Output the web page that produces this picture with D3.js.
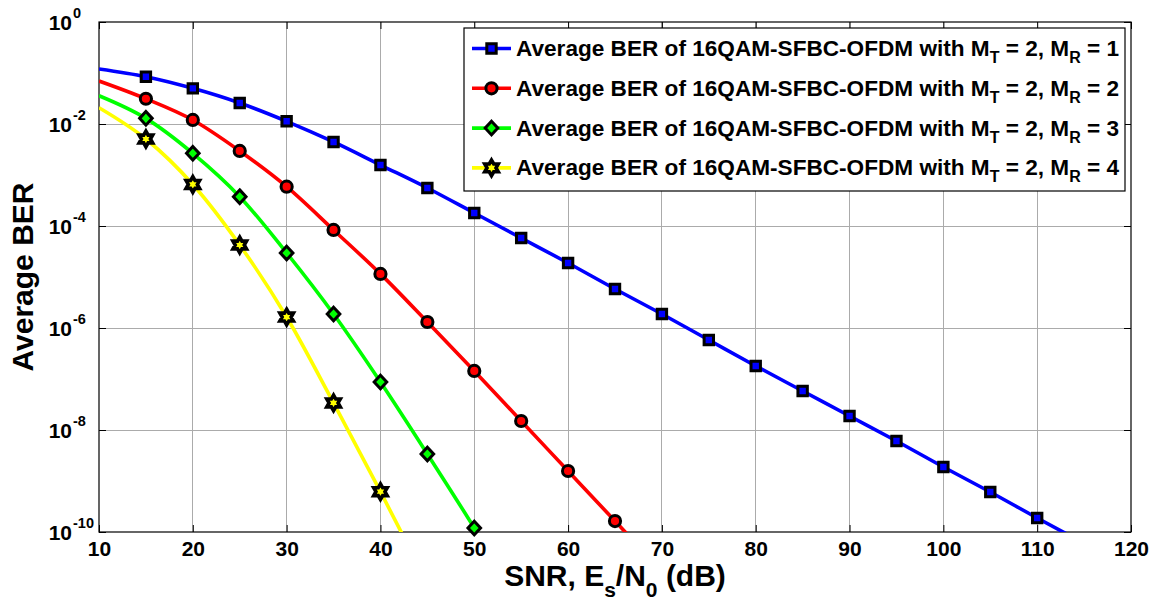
<!DOCTYPE html>
<html>
<head>
<meta charset="utf-8">
<script src="https://cdn.jsdelivr.net/npm/d3@7"></script>
<style>
  html, body { margin: 0; padding: 0; background: #fff; }
  svg { display: block; font-family: "Liberation Sans", Arial, sans-serif; font-weight: bold; }
</style>
</head>
<body>
<svg id="chart" width="1162" height="605"></svg>
<script>
// SNR (dB) sample points and average BER for each receive-antenna count
const snr1 = [10, 15, 20, 25, 30, 35, 40, 45, 50, 55, 60, 65, 70, 75, 80, 85, 90, 95, 100, 105, 110, 115];
const ber1 = [1.20e-1, 8.45e-2, 5.0e-2, 2.58e-2, 1.13e-2, 4.44e-3, 1.57e-3, 5.56e-4, 1.80e-4, 5.82e-5, 1.88e-5,
              5.82e-6, 1.88e-6, 5.82e-7, 1.80e-7, 5.82e-8, 1.88e-8, 6.08e-9, 1.88e-9, 6.08e-10, 1.88e-10, 6.0e-11];

const snr2 = [10, 15, 20, 25, 30, 35, 40, 45, 50, 55, 60, 65, 70];
const ber2 = [6.97e-2, 3.13e-2, 1.20e-2, 2.96e-3, 5.90e-4, 8.36e-5, 1.15e-5, 1.31e-6, 1.44e-7, 1.50e-8, 1.57e-9, 1.64e-10, 1.7e-11];

const snr3 = [10, 15, 20, 25, 30, 35, 40, 45, 50, 55];
const ber3 = [3.59e-2, 1.29e-2, 2.66e-3, 3.76e-4, 2.96e-5, 1.88e-6, 8.73e-8, 3.38e-9, 1.20e-10, 3.5e-12];

const snr4 = [10, 15, 20, 25, 30, 35, 40, 45];
const ber4 = [2.09e-2, 5.08e-3, 6.52e-4, 4.24e-5, 1.64e-6, 3.39e-8, 6.17e-10, 1.0e-11];

const receiveAntennas = [1, 2, 3, 4];
const seriesColors = ["#0000ff", "#ff0000", "#00ff00", "#ffff00"];
const seriesMarkers = ["square", "circle", "diamond", "hexagram"];

const xTicks = [10, 20, 30, 40, 50, 60, 70, 80, 90, 100, 110, 120];
const yTicks = [1, 1e-2, 1e-4, 1e-6, 1e-8, 1e-10];
const yTickExponents = ["0", "-2", "-4", "-6", "-8", "-10"];
const firstMarkerSnr = 15;

const series = [
  { snr: snr1, ber: ber1 },
  { snr: snr2, ber: ber2 },
  { snr: snr3, ber: ber3 },
  { snr: snr4, ber: ber4 }
].map((s, i) => ({
  points: s.snr.map((v, j) => ({ snr: v, ber: s.ber[j] })),
  color: seriesColors[i],
  marker: seriesMarkers[i],
  mr: receiveAntennas[i]
}));

// ---- layout ----
const svg = d3.select("#chart");
const plot = { left: 99, right: 1131, top: 22, bottom: 532 };

const x = d3.scaleLinear().domain([10, 120]).range([plot.left, plot.right]);
const y = d3.scaleLog().domain([1e-10, 1]).range([plot.bottom, plot.top]);

// ---- grid ----
const grid = svg.append("g").attr("stroke", "#ababab").attr("stroke-width", 1).attr("shape-rendering", "crispEdges");
grid.selectAll("line.gx").data(xTicks.slice(1, -1)).enter().append("line")
  .attr("x1", d => x(d)).attr("x2", d => x(d)).attr("y1", plot.top).attr("y2", plot.bottom);
grid.selectAll("line.gy").data(yTicks.slice(1, -1)).enter().append("line")
  .attr("y1", d => y(d)).attr("y2", d => y(d)).attr("x1", plot.left).attr("x2", plot.right);

// ---- axes ----
const tickLen = 7;
const xAxis = svg.append("g").attr("transform", `translate(0,${plot.bottom})`)
  .call(d3.axisBottom(x).tickValues(xTicks).tickSizeInner(-tickLen).tickSizeOuter(0).tickFormat(d3.format("d")));
xAxis.selectAll("text").attr("y", 24).attr("dy", 0)
  .attr("font-size", 21).attr("font-weight", "bold").attr("fill", "#000")
  .attr("font-family", '"Liberation Sans", Arial, sans-serif');

svg.append("g").attr("transform", `translate(0,${plot.top})`)
  .call(d3.axisTop(x).tickValues(xTicks).tickSizeInner(-tickLen).tickSizeOuter(0).tickFormat(""));

const yAxis = svg.append("g").attr("transform", `translate(${plot.left},0)`)
  .call(d3.axisLeft(y).tickValues(yTicks).tickSizeInner(-tickLen).tickSizeOuter(0).tickFormat(""));
svg.append("g").attr("transform", `translate(${plot.right},0)`)
  .call(d3.axisRight(y).tickValues(yTicks).tickSizeInner(-tickLen).tickSizeOuter(0).tickFormat(""));

// y tick labels as 10^n
yAxis.selectAll(".tick").each(function (d, i) {
  const g = d3.select(this);
  g.select("text").remove();
  g.append("text").attr("x", 72 - plot.left).attr("y", 7).attr("text-anchor", "end")
    .attr("font-size", 21).attr("fill", "#000").text("10");
  g.append("text").attr("x", 73 - plot.left).attr("y", -4.5).attr("text-anchor", "start")
    .attr("font-size", 14.5).attr("fill", "#000").text(yTickExponents[i]);
});

svg.selectAll(".domain").remove();
svg.selectAll(".tick line").attr("stroke", "#000").attr("stroke-width", 1);

// axes box
svg.append("rect")
  .attr("x", plot.left).attr("y", plot.top)
  .attr("width", plot.right - plot.left).attr("height", plot.bottom - plot.top)
  .attr("fill", "none").attr("stroke", "#000").attr("stroke-width", 1.2);

// ---- marker shapes ----
function hexagramPath(r) {
  const ri = r / Math.sqrt(3);
  const pts = [];
  for (let k = 0; k < 12; k++) {
    const a = -Math.PI / 2 + k * Math.PI / 6;
    const rr = k % 2 === 0 ? r : ri;
    pts.push([rr * Math.cos(a), rr * Math.sin(a)]);
  }
  return "M" + pts.map(p => p[0].toFixed(2) + "," + p[1].toFixed(2)).join("L") + "Z";
}
const markerPaths = {
  square: "M-4.7,-4.7H4.7V4.7H-4.7Z",
  circle: d3.symbol(d3.symbolCircle, Math.PI * 5.6 * 5.6)(),
  diamond: "M0,-6.8L6.3,0L0,6.8L-6.3,0Z",
  hexagram: hexagramPath(7.8)
};
const markerStroke = { square: 3, circle: 3, diamond: 3, hexagram: 3.6 };
function drawMarker(sel, type, color) {
  sel.append("path").attr("d", markerPaths[type])
    .attr("fill", color).attr("stroke", "#000").attr("stroke-width", markerStroke[type])
    .attr("stroke-linejoin", "miter");
}

// ---- curves ----
svg.append("clipPath").attr("id", "plotClip").append("rect")
  .attr("x", plot.left).attr("y", plot.top)
  .attr("width", plot.right - plot.left).attr("height", plot.bottom - plot.top);

const line = d3.line()
  .x(d => x(d.snr))
  .y(d => y(d.ber))
  .curve(d3.curveMonotoneX);

series.forEach(s => {
  const g = svg.append("g");
  g.append("path").datum(s.points)
    .attr("clip-path", "url(#plotClip)")
    .attr("d", line)
    .attr("fill", "none").attr("stroke", s.color).attr("stroke-width", 3.6)
    .attr("stroke-linejoin", "round");
  const shown = s.points.filter(p => p.snr >= firstMarkerSnr && p.ber >= 1e-10);
  shown.forEach(p => {
    const m = g.append("g").attr("transform", `translate(${x(p.snr)},${y(p.ber)})`);
    drawMarker(m, s.marker, s.color);
  });
});

// ---- legend ----
const legend = { left: 464, top: 28, right: 1125, bottom: 191 };
svg.append("rect")
  .attr("x", legend.left).attr("y", legend.top)
  .attr("width", legend.right - legend.left).attr("height", legend.bottom - legend.top)
  .attr("fill", "#fff").attr("stroke", "#000").attr("stroke-width", 1.2);

series.forEach((s, i) => {
  const cy = 48.5 + i * 39.8;
  const row = svg.append("g");
  row.append("line").attr("x1", 472).attr("x2", 511).attr("y1", cy).attr("y2", cy)
    .attr("stroke", s.color).attr("stroke-width", 3.6);
  const m = row.append("g").attr("transform", `translate(491.5,${cy})`);
  drawMarker(m, s.marker, s.color);
  const t = row.append("text").attr("x", 516).attr("y", cy + 7.5)
    .attr("font-size", 22.6).attr("fill", "#000");
  t.append("tspan").text("Average BER of 16QAM-SFBC-OFDM with M");
  t.append("tspan").attr("font-size", 16).attr("dy", 7).text("T");
  t.append("tspan").attr("dy", -7).text(" = 2, M");
  t.append("tspan").attr("font-size", 16).attr("dy", 7).text("R");
  t.append("tspan").attr("dy", -7).text(" = " + s.mr);
});

// ---- axis titles ----
const xt = svg.append("text").attr("x", (plot.left + plot.right) / 2).attr("y", 586)
  .attr("text-anchor", "middle").attr("font-size", 30).attr("fill", "#000");
xt.append("tspan").text("SNR, E");
xt.append("tspan").attr("font-size", 21).attr("dy", 11).text("s");
xt.append("tspan").attr("dy", -11).text("/N");
xt.append("tspan").attr("font-size", 21).attr("dy", 11).text("0");
xt.append("tspan").attr("dy", -11).text(" (dB)");

svg.append("text")
  .attr("transform", `translate(33,${(plot.top + plot.bottom) / 2}) rotate(-90)`)
  .attr("text-anchor", "middle").attr("font-size", 30).attr("fill", "#000")
  .text("Average BER");
</script>
</body>
</html>
